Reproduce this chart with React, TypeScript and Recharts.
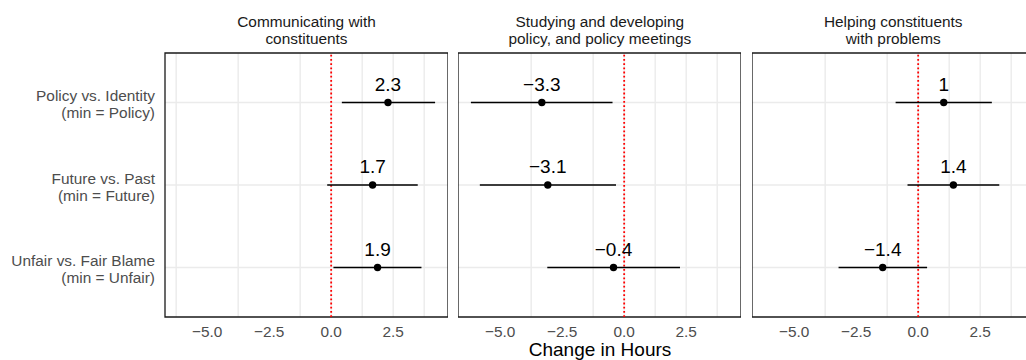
import React from "react";
import {
  ScatterChart,
  Scatter,
  XAxis,
  YAxis,
  CartesianGrid,
  ErrorBar,
  ReferenceLine,
  ReferenceArea,
} from "recharts";

// facet titles
const PANEL_TITLES = [
  ["Communicating with", "constituents"],
  ["Studying and developing", "policy, and policy meetings"],
  ["Helping constituents", "with problems"],
];

// rows (top to bottom)
const ROW_LABELS = [
  ["Policy vs. Identity", "(min = Policy)"],
  ["Future vs. Past", "(min = Future)"],
  ["Unfair vs. Fair Blame", "(min = Unfair)"],
];

// estimates and 95% intervals, per panel
const EST_COMM = [2.29, 1.67, 1.87];
const LO_COMM = [0.43, -0.16, 0.09];
const HI_COMM = [4.19, 3.49, 3.64];

const EST_POLICY = [-3.32, -3.08, -0.43];
const LO_POLICY = [-6.18, -5.82, -3.1];
const HI_POLICY = [-0.47, -0.33, 2.25];

const EST_HELP = [1.03, 1.42, -1.43];
const LO_HELP = [-0.91, -0.43, -3.21];
const HI_HELP = [2.97, 3.27, 0.36];

const X_TICKS = [-5, -2.5, 0, 2.5];
const X_GRID = [-6.25, -5, -3.75, -2.5, -1.25, 0, 1.25, 2.5, 3.75];
const X_DOMAIN = [-6.7, 4.71];
const Y_DOMAIN = [0.4, 3.6];

const FONT = '"Liberation Sans", Arial, Helvetica, sans-serif';
const PANEL_W = 283;
const PANEL_STEP = 293.35;
const PLOT_LEFT = 165;
const PLOT_TOP = 53;
const CHART_H = 360;

const minus = (s: string) => s.replace("-", "\u2212");
const fmtTick = (v: number) => minus(v.toFixed(1));
const fmtLabel = (v: number) => minus(String(Math.round(v * 10) / 10));

const panels = [
  { est: EST_COMM, lo: LO_COMM, hi: HI_COMM },
  { est: EST_POLICY, lo: LO_POLICY, hi: HI_POLICY },
  { est: EST_HELP, lo: LO_HELP, hi: HI_HELP },
];

// point + value label above it
const PointShape = (props: any) => {
  const { cx, cy, payload } = props;
  return (
    <g>
      <circle cx={cx} cy={cy} r={3.7} fill="#000" />
      <text x={cx} y={cy - 12} textAnchor="middle" fontSize={19} fontFamily={FONT} fill="#000">
        {fmtLabel(payload.est)}
      </text>
    </g>
  );
};

const RowTick = (props: any) => {
  const { x, y, payload } = props;
  const lines = ROW_LABELS[payload.value - 1] || [];
  return (
    <text textAnchor="end" fill="#4d4d4d" fontSize={15.4} fontFamily={FONT}>
      <tspan x={x} y={y - 1.5}>{lines[0]}</tspan>
      <tspan x={x} y={y + 15.5}>{lines[1]}</tspan>
    </text>
  );
};

function Panel({ index }: { index: number }) {
  const p = panels[index];
  const showY = index === 0;
  const data = p.est.map((est, i) => ({ row: i + 1, est, lo: p.lo[i], hi: p.hi[i] }));
  const left = showY ? 0 : PLOT_LEFT + index * PANEL_STEP;
  const width = showY ? PLOT_LEFT + PANEL_W : PANEL_W;

  return (
    <div style={{ position: "absolute", left, top: 0 }}>
      <ScatterChart width={width} height={CHART_H} margin={{ top: PLOT_TOP, right: 0, bottom: 0, left: 0 }}>
        <CartesianGrid
          verticalValues={X_GRID}
          horizontalValues={[1, 2, 3]}
          stroke="#ebebeb"
          strokeWidth={1.4}
        />
        <XAxis
          type="number"
          dataKey="est"
          domain={X_DOMAIN}
          ticks={X_TICKS}
          allowDataOverflow
          tickFormatter={fmtTick}
          height={CHART_H - PLOT_TOP - 264}
          tickLine={false}
          axisLine={false}
          tickSize={0}
          tickMargin={9.5}
          tick={{ fill: "#4d4d4d", fontSize: 15.4, fontFamily: FONT }}
        />
        <YAxis
          type="number"
          dataKey="row"
          domain={Y_DOMAIN}
          ticks={[1, 2, 3]}
          reversed
          hide={!showY}
          width={PLOT_LEFT}
          tickLine={false}
          axisLine={false}
          tickSize={0}
          tickMargin={10}
          tick={<RowTick />}
        />
        <ReferenceLine x={0} stroke="#ff0000" strokeWidth={1.8} strokeDasharray="1.8 2.4" />
        <Scatter data={data} shape={<PointShape />} isAnimationActive={false}>
          <ErrorBar
            dataKey={(d: any) => [d.est - d.lo, d.hi - d.est]}
            direction="x"
            width={0}
            stroke="#000"
            strokeWidth={1.4}
          />
        </Scatter>
        <ReferenceArea
          x1={X_DOMAIN[0]}
          x2={X_DOMAIN[1]}
          y1={Y_DOMAIN[0]}
          y2={Y_DOMAIN[1]}
          fill="none"
          fillOpacity={0}
          stroke="#1a1a1a"
          strokeWidth={1.3}
        />
      </ScatterChart>
    </div>
  );
}

export default function App() {
  return (
    <div
      style={{
        position: "absolute",
        left: 0,
        top: 0,
        width: 1026,
        height: 360,
        overflow: "hidden",
        background: "#fff",
        fontFamily: FONT,
      }}
    >
      {PANEL_TITLES.map((t, i) => (
        <div
          key={i}
          style={{
            position: "absolute",
            left: PLOT_LEFT + i * PANEL_STEP,
            top: 13.2,
            width: PANEL_W,
            textAlign: "center",
            fontSize: 15.4,
            lineHeight: "17px",
            color: "#1a1a1a",
          }}
        >
          {t[0]}
          <br />
          {t[1]}
        </div>
      ))}
      {panels.map((_, i) => (
        <Panel key={i} index={i} />
      ))}
      <div
        style={{
          position: "absolute",
          left: 400,
          top: 339.8,
          width: 400,
          textAlign: "center",
          fontSize: 19,
          lineHeight: "19px",
          color: "#000",
        }}
      >
        Change in Hours
      </div>
    </div>
  );
}
